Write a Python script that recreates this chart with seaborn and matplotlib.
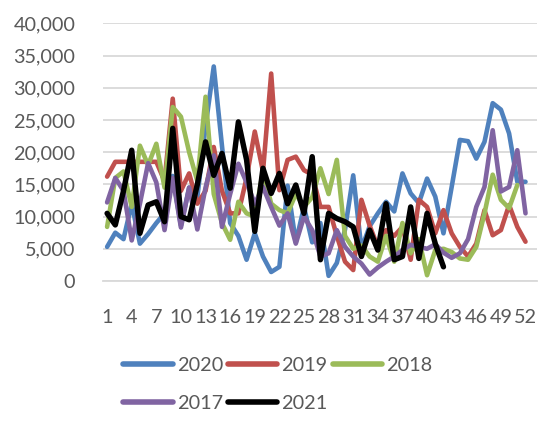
import pandas as pd
import numpy as np
import matplotlib
matplotlib.use('Agg')
import matplotlib.pyplot as plt
import seaborn as sns

# weekly values
weeks = list(range(1, 53))

y2020 = [5300, 7500, 6500, 12000, 5800, 7300, 9000, 10500, 16300, 8600,
         14500, 13000, 24000, 33300, 21000, 9000, 7000, 3300, 7400, 3800,
         1400, 2200, 14800, 6000, 11500, 6000, 9000, 800, 2800, 8000,
         16400, 5000, 8500, 10500, 12300, 10800, 16700, 13600, 12100, 15900,
         13100, 7400, 14600, 21900, 21700, 19000, 21600, 27600, 26600, 22900,
         15400, 15400]
y2019 = [16200, 18500, 18500, 18500, 18500, 18500, 18500, 15500, 28300, 14000,
         16700, 12000, 14000, 20800, 14000, 10500, 10500, 16000, 23200, 17000,
         32200, 14100, 18800, 19300, 17200, 16500, 11500, 11500, 7000, 3000,
         1700, 12600, 8600, 5300, 7900, 7000, 8400, 3300, 12600, 11500,
         7400, 11000, 7400, 5300, 3800, 5800, 11000, 7100, 7900, 11800,
         8400, 6100]
y2018 = [8400, 16000, 17000, 11500, 21000, 18000, 21300, 14500, 27000, 25500,
         20000, 15500, 28600, 13500, 9000, 6400, 12300, 10500, 10000, 17000,
         12000, 11000, 10500, 13500, 11500, 13000, 17500, 13500, 18800, 7000,
         5000, 5500, 3800, 3000, 7000, 3000, 9000, 4300, 6500, 900,
         4800, 5000, 4500, 3500, 3300, 5300, 10500, 16500, 12600, 11300,
         14900]
y2017 = [12200, 16000, 14000, 6300, 12000, 18300, 15300, 7900, 16000, 8300,
         14500, 8000, 14500, 19500, 8400, 13500, 18200, 15300, 12000, 14600,
         11500, 8600, 10500, 5800, 10000, 7900, 3800, 4300, 7900, 5300,
         3800, 2700, 1000, 2100, 3000, 3800, 4800, 5600, 5300, 5000,
         5700, 4400, 3600, 4300, 6500, 11500, 14600, 23400, 13900, 14600,
         20300, 10500]
y2021 = [10500, 8700, 14000, 20300, 7400, 11800, 12300, 9200, 23700, 10000,
         9500, 15000, 21600, 16400, 19800, 14400, 24700, 18800, 7700, 17500,
         13600, 16700, 12000, 14900, 10500, 19300, 3300, 10500, 9700, 9200,
         8400, 3800, 7900, 4800, 12000, 3300, 3800, 11500, 3500, 10500,
         5800, 2200]

series = [('2020', y2020, '#4F81BD'), ('2019', y2019, '#C0504D'),
          ('2018', y2018, '#9BBB59'), ('2017', y2017, '#8064A2'),
          ('2021', y2021, '#000000')]

sns.set_style('white')
plt.rcParams['font.family'] = ['Lato', 'DejaVu Sans']
txt = '#595959'

fig = plt.figure(figsize=(5.5, 4.26), dpi=100)
ax = fig.add_axes([103 / 550, 145 / 426, 434 / 550, 257.7 / 426])

handles = {}
for name, vals, col in series:
    d = pd.DataFrame({'week': weeks[:len(vals)], 'value': vals})
    lw = 3.9 if name == '2021' else 3.3
    sns.lineplot(data=d, x='week', y='value', ax=ax, color=col, linewidth=lw,
                 solid_joinstyle='round', solid_capstyle='round')
    handles[name] = ax.lines[-1]

ax.set_xlim(0.5, 53.4)
ax.set_ylim(0, 40000)
ax.set_yticks(range(0, 40001, 5000))
ax.set_yticklabels([f'{v:,}' for v in range(0, 40001, 5000)])
ax.set_xticks(range(1, 53, 3))
ax.set_xlabel('')
ax.set_ylabel('')
ax.yaxis.grid(True, color='#D9D9D9', linewidth=1.3)
ax.set_axisbelow(True)
for s in ['top', 'right', 'left']:
    ax.spines[s].set_visible(False)
ax.spines['bottom'].set_color('#D9D9D9')
ax.spines['bottom'].set_linewidth(1.3)
ax.tick_params(axis='y', length=0, pad=20, labelsize=14.3, labelcolor=txt)
ax.tick_params(axis='x', length=0, pad=20, labelsize=14.3, labelcolor=txt)

# legend laid out row by row like the reference (2020 2019 2018 / 2017 2021)
order = ['2020', '2017', '2019', '2021', '2018']
leg = fig.legend([handles[k] for k in order], order, ncol=3, frameon=False,
                 loc='upper left', bbox_to_anchor=(123 / 550, 0.163),
                 fontsize=14.3, handlelength=2.5, handletextpad=0.2,
                 columnspacing=0.25, labelspacing=1.07, borderpad=0,
                 borderaxespad=0)
for t in leg.get_texts():
    t.set_color(txt)
for h in leg.legend_handles:
    h.set_linewidth(4)
    h.set_solid_capstyle('round')

fig.savefig('out.png', dpi=100)
